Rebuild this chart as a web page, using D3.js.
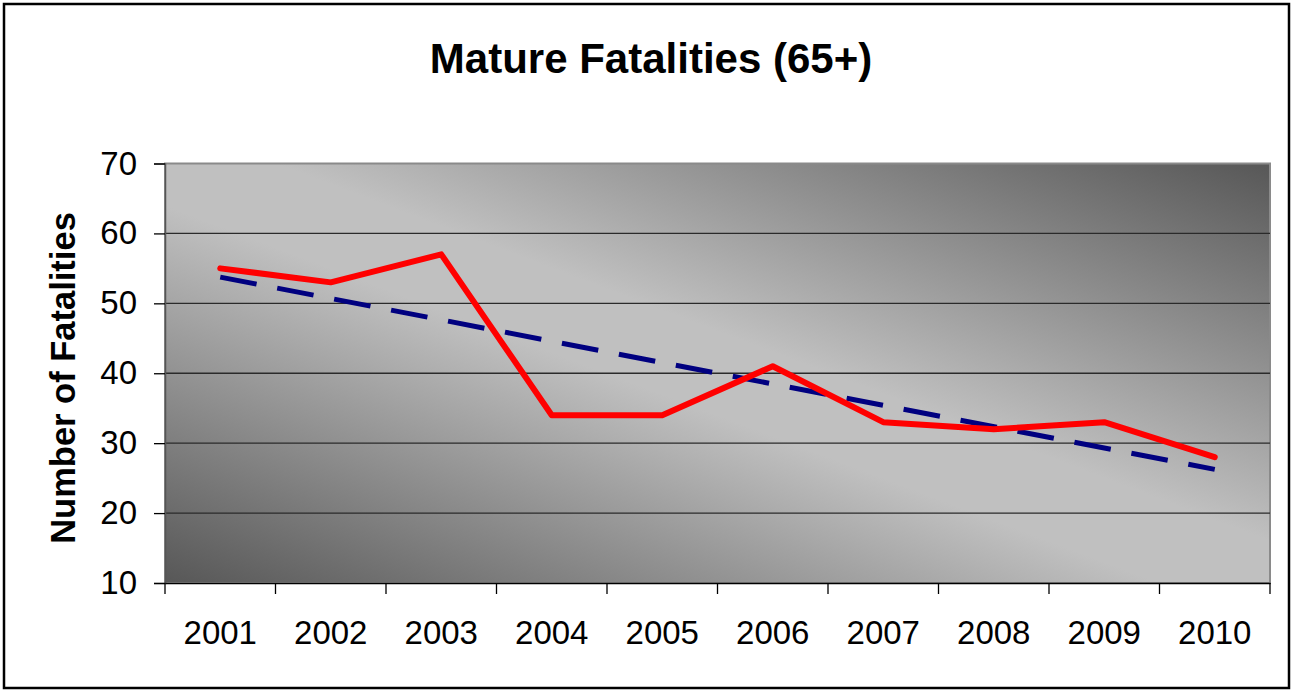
<!DOCTYPE html>
<html>
<head>
<meta charset="utf-8">
<script src="https://cdn.jsdelivr.net/npm/d3@7"></script>
<style>
  html, body { margin: 0; padding: 0; background: #fff; }
  svg { display: block; font-family: "Liberation Sans", Arial, sans-serif; }
</style>
</head>
<body>
<svg id="chart" width="1294" height="692"></svg>
<script>
// Yearly counts of fatalities aged 65 and over
const years = ["2001", "2002", "2003", "2004", "2005", "2006", "2007", "2008", "2009", "2010"];
const fatalities = [55, 53, 57, 34, 34, 41, 33, 32, 33, 28];
// Linear trend line, value at the first and last year
const trendYears = ["2001", "2010"];
const trendValues = [53.75, 26.25];
const yTicks = [10, 20, 30, 40, 50, 60, 70];

const svg = d3.select("#chart");
const W = 1294, H = 692;
const plot = { left: 165, top: 163.5, right: 1270, bottom: 583 };
const FONT = "Liberation Sans, Arial, sans-serif";

// Outer frame
svg.append("rect")
  .attr("x", 4).attr("y", 4).attr("width", W - 9).attr("height", H - 8)
  .attr("fill", "#fff").attr("stroke", "#000").attr("stroke-width", 2.5);

// Diagonal grey shading of the plot area
const defs = svg.append("defs");
const grad = defs.append("linearGradient")
  .attr("id", "bg").attr("x1", 0).attr("y1", 1).attr("x2", 1).attr("y2", 0);
grad.append("stop").attr("offset", 0).attr("stop-color", "#575757");
grad.append("stop").attr("offset", 0.45).attr("stop-color", "#c0c0c0");
grad.append("stop").attr("offset", 0.55).attr("stop-color", "#c0c0c0");
grad.append("stop").attr("offset", 1).attr("stop-color", "#575757");

const x = d3.scaleBand().domain(years).range([plot.left, plot.right]).padding(0);
const y = d3.scaleLinear().domain([10, 70]).range([plot.bottom, plot.top]);
const cx = d => x(d) + x.bandwidth() / 2;

svg.append("rect")
  .attr("x", plot.left).attr("y", plot.top)
  .attr("width", plot.right - plot.left).attr("height", plot.bottom - plot.top)
  .attr("fill", "url(#bg)").attr("stroke", "#8a8a8a").attr("stroke-width", 2);

// Horizontal gridlines
svg.append("g").selectAll("line")
  .data(yTicks.filter(t => t > 10 && t < 70))
  .join("line")
  .attr("x1", plot.left).attr("x2", plot.right)
  .attr("y1", d => y(d)).attr("y2", d => y(d))
  .attr("stroke", "#2a2a2a").attr("stroke-width", 1.3);

// Y axis
const yAxis = svg.append("g")
  .attr("transform", `translate(${plot.left},0)`)
  .call(d3.axisLeft(y).tickValues(yTicks).tickSize(11).tickPadding(17));
yAxis.select(".domain").attr("stroke", "#555").attr("stroke-width", 1.5);
yAxis.selectAll(".tick line").attr("stroke", "#000").attr("stroke-width", 1.3);
yAxis.selectAll("text").attr("font-size", 33).attr("fill", "#000")
  .attr("font-family", FONT);

// X axis with ticks between categories
const xAxis = svg.append("g")
  .attr("transform", `translate(0,${plot.bottom})`)
  .call(d3.axisBottom(x).tickSize(0).tickPadding(38));
xAxis.select(".domain").attr("stroke", "#000").attr("stroke-width", 1.5);
xAxis.selectAll("text").attr("font-size", 33).attr("fill", "#000")
  .attr("font-family", FONT);
xAxis.append("g").selectAll("line")
  .data(years.map(d => x(d)).concat([x(years[years.length - 1]) + x.bandwidth()]))
  .join("line")
  .attr("x1", d => d).attr("x2", d => d)
  .attr("y1", 0).attr("y2", 11)
  .attr("stroke", "#000").attr("stroke-width", 1.3);

// Trend line (dashed)
svg.append("path")
  .datum(trendYears.map((d, i) => [d, trendValues[i]]))
  .attr("d", d3.line().x(d => cx(d[0])).y(d => y(d[1])))
  .attr("fill", "none").attr("stroke", "#000080")
  .attr("stroke-width", 5).attr("stroke-dasharray", "37 21");

// Fatalities line
svg.append("path")
  .datum(years.map((d, i) => [d, fatalities[i]]))
  .attr("d", d3.line().x(d => cx(d[0])).y(d => y(d[1])))
  .attr("fill", "none").attr("stroke", "#ff0000")
  .attr("stroke-width", 6).attr("stroke-linejoin", "round").attr("stroke-linecap", "round");

// Title
svg.append("text")
  .attr("x", 651).attr("y", 73)
  .attr("text-anchor", "middle")
  .attr("font-size", 42).attr("font-weight", "bold")
  .attr("font-family", FONT)
  .text("Mature Fatalities (65+)");

// Y axis title
svg.append("text")
  .attr("transform", `translate(75,378) rotate(-90)`)
  .attr("text-anchor", "middle")
  .attr("font-size", 34.5).attr("font-weight", "bold")
  .attr("font-family", FONT)
  .text("Number of Fatalities");
</script>
</body>
</html>
